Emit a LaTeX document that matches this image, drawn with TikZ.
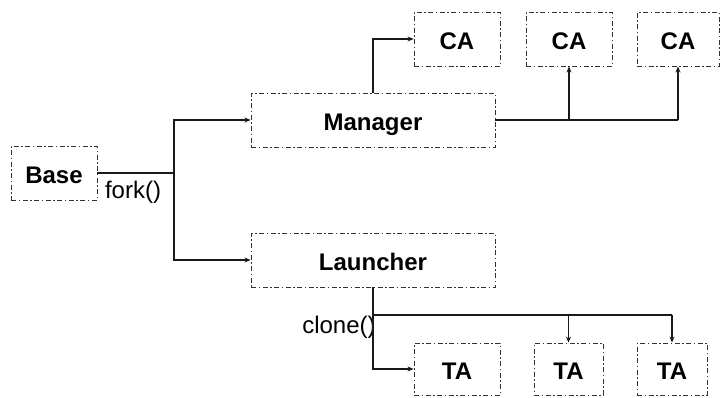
\documentclass[tikz,border=0pt]{standalone}
\usepackage{fontspec}
\setmainfont{Liberation Sans}
\usetikzlibrary{arrows.meta}
\begin{document}
\begin{tikzpicture}[x=1pt,y=-1pt,
  proc/.style={draw=black!80, line width=0.9pt,
    dash pattern=on 5pt off 2.5pt on 1.5pt off 2.5pt,
    minimum height=54pt, inner sep=0pt,
    text height=20.2pt, text depth=0pt,
    font=\fontsize{24}{28}\selectfont\bfseries},
  link/.style={draw=black!90, line width=1.1pt},
  arr/.style={link, -{Stealth[length=6pt,width=5pt]}},
  call/.style={font=\fontsize{24}{28}\selectfont, inner sep=0pt}]
\useasboundingbox (0,0) rectangle (721,397);

% processes
\node[proc, minimum width=86pt] (base) at (54,173) {Base};
\node[proc, minimum width=244pt] (mgr) at (373,120) {Manager};
\node[proc, minimum width=244pt] (lch) at (373,260) {Launcher};
\node[proc, minimum width=86pt] (ca1) at (457,39) {CA};
\node[proc, minimum width=86pt] (ca2) at (569,39) {CA};
\node[proc, minimum width=82pt] (ca3) at (678,39) {CA};
\node[proc, minimum width=86pt, minimum height=52pt] (ta1) at (457,369) {TA};
\node[proc, minimum width=69pt, minimum height=52pt] (ta2) at (568.5,369) {TA};
\node[proc, minimum width=70pt, minimum height=52pt] (ta3) at (672,369) {TA};

% call labels
\node[call] (fork) at (133,192) {fork()};
\node[call] (clone) at (339,327) {clone()};

% fork() splits the base process
\coordinate (fj) at (174,173);
\draw[link] (base.east) -- (fj);
\draw[arr] (fj) |- (mgr.west);
\draw[arr] (fj) |- (lch.west);

% manager spawns the CAs
\draw[arr] (mgr.north) |- (ca1.west);
\coordinate (mj) at (ca3.south |- mgr.east);
\draw[link] (mgr.east) -- (mj);
\draw[arr] (mj) -- (ca3.south);
\draw[arr] (ca2.south |- mgr.east) -- (ca2.south);

% launcher clones the TAs
\coordinate (lj) at (lch.south |- 0,315);
\draw[arr] (lch.south) |- (ta1.west);
\draw[link] (lj) -- (ta3.north |- lj);
\draw[arr] (ta2.north |- lj) -- (ta2.north);
\draw[arr] (ta3.north |- lj) -- (ta3.north);
\end{tikzpicture}
\end{document}
